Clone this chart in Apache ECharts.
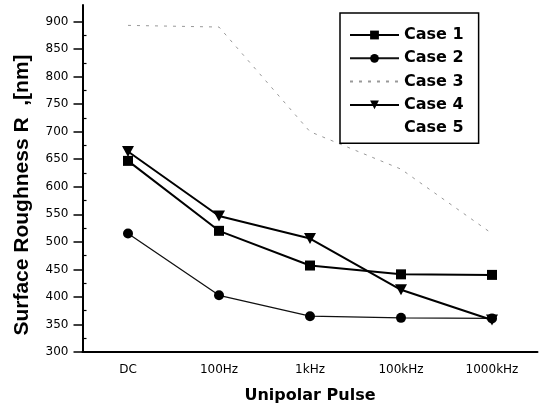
<!DOCTYPE html>
<html>
<head>
<meta charset="utf-8">
<script src="https://cdn.jsdelivr.net/npm/echarts@6/dist/echarts.min.js"></script>
<style>html,body{margin:0;padding:0;background:#fff}#c{width:544px;height:409px}</style>
</head>
<body>
<div id="c"></div>
<script>
const categories = ['DC', '100Hz', '1kHz', '100kHz', '1000kHz'];
const case1 = [647, 520, 457, 441, 440];
const case2 = [515, 403, 365, 362, 361];
const case3 = [893, 890, 700, 632, 515];
const case4 = [664, 547, 506, 413, 358];
const case5 = [];
const yTicks = [300, 350, 400, 450, 500, 550, 600, 650, 700, 750, 800, 850, 900];
const yMinorTicks = [325, 375, 425, 475, 525, 575, 625, 675, 725, 775, 825, 875];
const yMin = 300, yMax = 930;

const chart = echarts.init(document.getElementById('c'), null, {renderer: 'canvas'});
const lbl = {fontFamily: 'DejaVu Sans', fontSize: 12, color: '#000'};
chart.setOption({
  animation: false,
  backgroundColor: '#fff',
  grid: {left: 82.5, right: 6.5, top: 5, bottom: 55},
  legend: {
    orient: 'vertical', left: 340, top: 13,
    padding: [14, 15, 7, 9],
    itemWidth: 49, itemHeight: 11, itemGap: 7.3,
    borderColor: '#000', borderWidth: 1.5, borderRadius: 0,
    textStyle: {fontFamily: 'DejaVu Sans', fontWeight: 'bold', fontSize: 16, lineHeight: 16, color: '#000'},
    data: ['Case 1', 'Case 2', {name: 'Case 3', itemStyle: {opacity: 0}}, 'Case 4', {name: 'Case 5', icon: 'none'}]
  },
  xAxis: [{
    type: 'category', data: categories, boundaryGap: true,
    name: 'Unipolar Pulse', nameLocation: 'middle', nameGap: 36,
    nameTextStyle: {fontFamily: 'DejaVu Sans', fontWeight: 'bold', fontSize: 16, color: '#000'},
    axisLine: {lineStyle: {color: '#000', width: 2}},
    axisTick: {alignWithLabel: true, length: 8, lineStyle: {color: '#000', width: 1.5}},
    axisLabel: Object.assign({margin: 12}, lbl),
    splitLine: {show: false}
  }, {
    type: 'category', data: categories, boundaryGap: true, position: 'bottom',
    axisLine: {show: false},
    axisTick: {inside: true, length: 5, lineStyle: {color: '#000', width: 1.2}},
    axisLabel: {show: false}, splitLine: {show: false}
  }],
  yAxis: [{
    type: 'value', min: yMin, max: yMax,
    name: 'Surface Roughness R  ,[nm]', nameLocation: 'middle', nameGap: 50, nameRotate: 90,
    nameTextStyle: {fontFamily: 'Liberation Sans', fontWeight: 'bold', fontSize: 21, color: '#000', padding: [0, 33, 0, 0]},
    axisLine: {show: true, lineStyle: {color: '#000', width: 2}},
    axisTick: {show: true, length: 9, customValues: yTicks, lineStyle: {color: '#000', width: 1.5}},
    axisLabel: Object.assign({margin: 14, customValues: yTicks}, lbl),
    splitLine: {show: false}
  }, {
    type: 'value', min: yMin, max: yMax, position: 'left',
    axisLine: {show: false},
    axisTick: {show: true, inside: true, length: 4, customValues: yMinorTicks, lineStyle: {color: '#000', width: 1.2}},
    axisLabel: {show: false}, splitLine: {show: false}
  }],
  series: [
    {name: 'Case 1', type: 'line', data: case1, symbol: 'rect', symbolSize: 10,
     itemStyle: {color: '#000'}, lineStyle: {color: '#000', width: 2}},
    {name: 'Case 2', type: 'line', data: case2, symbol: 'circle', symbolSize: 10,
     itemStyle: {color: '#000'}, lineStyle: {color: '#111', width: 1.3}},
    {name: 'Case 3', type: 'line', data: case3, symbol: 'none',
     itemStyle: {color: '#999'}, lineStyle: {color: '#999', width: 1, type: [3, 6]}},
    {name: 'Case 4', type: 'line', data: case4, symbol: 'triangle', symbolRotate: 180, symbolSize: [12, 11],
     itemStyle: {color: '#000'}, lineStyle: {color: '#000', width: 2}},
    {name: 'Case 5', type: 'line', data: case5, symbol: 'none',
     itemStyle: {color: '#fff', opacity: 0}, lineStyle: {color: '#fff', opacity: 0}}
  ]
});
</script>
</body>
</html>
